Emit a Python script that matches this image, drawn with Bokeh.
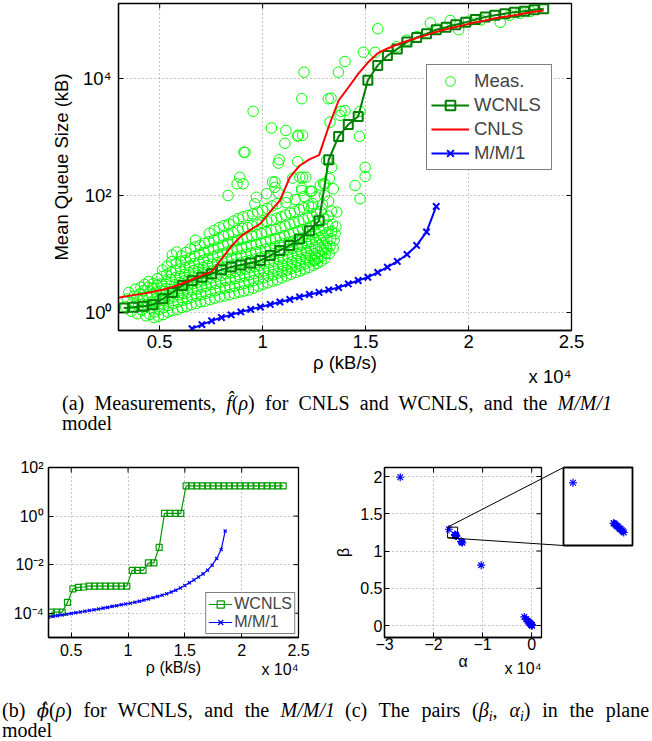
import math
from bokeh.plotting import figure
from bokeh.models import Range1d, FixedTicker, Legend, LegendItem, Div
from bokeh.core.properties import value
from bokeh.layouts import column, row
from bokeh.embed import file_html
from bokeh.resources import INLINE

# ---------------- (a) data : rho in units of 10^4 kB/s, queue size in kB ----------------
grid_rho = [0.325, 0.372, 0.420, 0.467, 0.515, 0.562, 0.610, 0.657, 0.705, 0.752,
            0.800, 0.847, 0.894, 0.942, 0.989, 1.037, 1.084, 1.132, 1.179, 1.227,
            1.274, 1.321, 1.369, 1.416, 1.464, 1.511, 1.559, 1.606, 1.654, 1.701,
            1.748, 1.796, 1.843, 1.891, 1.938, 1.986, 2.033, 2.081, 2.128, 2.176,
            2.223, 2.271, 2.318, 2.365]
wcnls_q = [1.19, 1.23, 1.28, 1.35, 1.71, 2.2, 2.9, 3.5, 4.0, 4.6,
           5.4, 6.0, 6.5, 7.0, 7.7, 9.4, 11.5, 14, 18, 25,
           37, 408, 1020, 1630, 2240, 9300, 16700, 24600, 32000, 41800,
           50000, 58000, 68000, 75000, 83000, 91000, 102000, 112000, 120000, 128000,
           136000, 141000, 149000, 155000]
cnls_rho = [0.300] + grid_rho
cnls_q = [1.78, 1.85, 1.98, 2.1, 2.27, 2.44, 2.73, 3.13, 3.66, 4.3, 5.0,
          8.2, 13.4, 20, 26, 33, 53, 82, 203, 322, 415,
          490, 1510, 4200, 7000, 12000, 18700, 27000, 32500, 38000, 43600,
          49000, 55000, 62400, 69200, 75900, 83200, 91200, 97700, 107000, 113500,
          120000, 129000, 138000, 144500]
mm1_rho = grid_rho[7:33]
mm1_q = [0.53, 0.62, 0.72, 0.82, 0.91, 1.02, 1.13, 1.24, 1.37, 1.51,
         1.67, 1.84, 2.03, 2.2, 2.43, 2.67, 3.07, 3.52, 4.0, 4.83,
         5.95, 7.45, 9.8, 14, 23.8, 65]

meas = [
    (0.335, 1.25), (0.342, 1.7), (0.350, 2.2), (0.362, 1.05), (0.368, 1.45), (0.375, 1.9), (0.381, 2.5),
    (0.392, 0.95), (0.397, 1.3), (0.401, 1.6), (0.404, 2.05), (0.409, 2.7),
    (0.413, 1.1), (0.418, 1.75), (0.421, 2.35), (0.426, 3.0), (0.432, 0.88), (0.436, 1.35), (0.439, 1.85),
    (0.443, 2.7), (0.447, 3.4), (0.452, 0.92), (0.455, 1.18), (0.458, 1.5), (0.461, 2.0), (0.464, 2.55), (0.468, 3.1),
    (0.472, 0.82), (0.475, 1.02), (0.478, 1.38), (0.481, 1.72), (0.484, 2.25), (0.487, 2.95), (0.489, 3.8),
    (0.493, 0.86), (0.497, 1.12), (0.500, 1.42), (0.503, 1.82), (0.506, 2.35), (0.509, 3.05), (0.511, 4.1),
    (0.514, 5.3), (0.517, 0.92), (0.520, 1.22), (0.523, 1.58), (0.526, 1.98), (0.529, 2.55), (0.532, 3.35),
    (0.534, 4.5), (0.537, 6.2),
    (0.541, 1.02), (0.543, 1.32), (0.546, 1.72), (0.549, 2.2), (0.551, 2.85), (0.554, 3.65), (0.556, 4.85),
    (0.558, 7.4), (0.561, 9.6), (0.563, 1.08), (0.566, 1.42), (0.568, 1.85), (0.571, 2.35), (0.573, 3.0),
    (0.576, 3.95), (0.578, 5.2), (0.580, 6.9), (0.583, 10.8), (0.586, 1.12), (0.588, 1.52), (0.591, 2.0),
    (0.593, 2.55), (0.596, 3.25), (0.598, 4.15), (0.600, 5.55), (0.603, 7.3), (0.605, 9.3),
    (0.608, 1.22), (0.611, 1.62), (0.613, 2.12), (0.616, 2.72), (0.618, 3.45), (0.621, 4.45), (0.623, 5.85),
    (0.625, 7.8), (0.628, 10.6), (0.631, 1.27), (0.633, 1.72), (0.636, 2.22), (0.638, 2.92), (0.641, 3.72),
    (0.643, 4.82), (0.645, 6.25), (0.648, 8.5), (0.650, 12.2), (0.653, 1.36), (0.655, 1.82), (0.658, 2.42),
    (0.660, 3.12), (0.663, 4.02), (0.665, 5.22), (0.668, 6.85), (0.670, 9.2), (0.672, 13.2), (0.674, 17.2),
    (0.677, 1.42), (0.679, 1.92), (0.682, 2.52), (0.684, 3.32), (0.687, 4.32), (0.689, 5.52), (0.691, 7.25),
    (0.694, 9.85), (0.696, 14.1), (0.699, 1.52), (0.701, 2.02), (0.704, 2.72), (0.706, 3.52), (0.708, 4.62),
    (0.711, 5.92), (0.713, 7.82), (0.716, 10.6), (0.718, 15.2), (0.720, 1.56), (0.723, 2.12), (0.725, 2.82),
    (0.728, 3.72), (0.730, 4.92), (0.732, 6.32), (0.735, 8.32), (0.737, 11.6), (0.739, 16.2), (0.741, 22.5),
    (0.744, 1.66), (0.746, 2.22), (0.749, 3.02), (0.751, 3.92), (0.753, 5.12), (0.756, 6.72), (0.758, 8.92),
    (0.760, 12.1), (0.763, 17.2), (0.765, 25.3), (0.768, 1.76), (0.770, 2.36), (0.773, 3.12), (0.775, 4.12),
    (0.778, 5.42), (0.780, 7.12), (0.782, 9.52), (0.785, 13.1), (0.787, 18.3), (0.789, 28.2), (0.792, 1.86),
    (0.794, 2.52), (0.796, 3.32), (0.799, 4.32), (0.801, 5.72), (0.803, 7.52), (0.806, 10.1), (0.808, 14.1),
    (0.810, 20.2), (0.812, 30.5),
    (0.815, 1.92), (0.817, 2.62), (0.820, 3.52), (0.822, 4.62), (0.824, 6.02), (0.827, 8.02), (0.829, 10.8),
    (0.831, 15.1), (0.834, 21.2), (0.836, 32.5), (0.838, 2.02), (0.841, 2.72), (0.843, 3.62), (0.845, 4.82),
    (0.848, 6.32), (0.850, 8.42), (0.852, 11.6), (0.855, 16.1), (0.857, 23.2), (0.859, 36.5), (0.862, 2.12),
    (0.864, 2.82), (0.866, 3.82), (0.869, 5.02), (0.871, 6.72), (0.873, 8.92), (0.876, 12.1), (0.878, 17.1),
    (0.880, 25.2), (0.882, 40.2),
    (0.885, 2.22), (0.887, 3.02), (0.889, 4.02), (0.892, 5.32), (0.894, 7.02), (0.896, 9.32), (0.899, 12.6),
    (0.901, 18.1), (0.903, 27.2), (0.905, 43.2), (0.908, 2.32), (0.910, 3.12), (0.913, 4.22), (0.915, 5.52),
    (0.917, 7.42), (0.920, 9.82), (0.922, 13.2), (0.924, 19.1), (0.927, 28.2), (0.929, 45.5), (0.931, 2.42),
    (0.934, 3.32), (0.936, 4.42), (0.938, 5.82), (0.941, 7.72), (0.943, 10.3), (0.945, 14.1), (0.948, 20.2),
    (0.950, 30.2), (0.952, 48.2),
    (0.955, 2.62), (0.957, 3.52), (0.959, 4.62), (0.962, 6.12), (0.964, 8.12), (0.966, 10.8), (0.969, 14.6),
    (0.971, 21.2), (0.973, 32.1), (0.976, 52.2), (0.978, 2.82), (0.980, 3.72), (0.983, 4.92), (0.985, 6.42),
    (0.987, 8.52), (0.990, 11.3), (0.992, 15.3), (0.994, 22.2), (0.997, 34.2), (0.999, 55.5), (1.001, 3.02),
    (1.004, 3.92), (1.006, 5.12), (1.008, 6.82), (1.011, 9.02), (1.013, 12.1), (1.015, 16.2), (1.018, 23.5),
    (1.020, 36.2), (1.022, 60.2),
    (1.025, 3.22), (1.027, 4.22), (1.029, 5.42), (1.032, 7.12), (1.034, 9.52), (1.036, 12.6), (1.039, 17.2),
    (1.041, 25.2), (1.043, 38.2), (1.046, 66.2), (1.048, 3.42), (1.050, 4.42), (1.053, 5.72), (1.055, 7.52),
    (1.057, 10.1), (1.060, 13.3), (1.062, 18.2), (1.064, 26.2), (1.067, 40.5), (1.069, 72.2), (1.071, 3.62),
    (1.074, 4.72), (1.076, 6.12), (1.078, 8.02), (1.081, 10.6), (1.083, 14.1), (1.085, 19.2), (1.088, 28.2),
    (1.090, 43.2),
    (1.092, 3.92), (1.095, 5.02), (1.097, 6.42), (1.099, 8.42), (1.102, 11.2), (1.104, 14.9), (1.106, 20.2),
    (1.109, 30.2), (1.111, 46.2), (1.113, 75.2), (1.116, 4.22), (1.118, 5.32), (1.120, 6.82), (1.123, 8.92),
    (1.125, 11.8), (1.127, 15.7), (1.130, 21.5), (1.132, 32.2), (1.134, 50.2), (1.137, 4.52), (1.139, 5.62),
    (1.141, 7.22), (1.144, 9.42), (1.146, 12.5), (1.148, 16.6), (1.151, 22.8), (1.153, 34.2), (1.155, 53.2),
    (1.158, 85.2),
    (1.160, 4.82), (1.162, 6.02), (1.165, 7.72), (1.167, 10.1), (1.169, 13.3), (1.172, 17.6), (1.174, 24.2),
    (1.176, 36.2), (1.179, 57.2), (1.181, 5.12), (1.183, 6.42), (1.186, 8.22), (1.188, 10.7), (1.190, 14.1),
    (1.193, 18.7), (1.195, 25.8), (1.197, 38.5), (1.200, 61.2), (1.202, 96.2), (1.204, 5.52), (1.207, 6.82),
    (1.209, 8.72), (1.211, 11.4), (1.214, 15.1), (1.216, 19.9), (1.218, 27.5), (1.221, 41.2), (1.223, 66.2),
    (1.225, 5.92), (1.228, 7.32), (1.230, 9.32), (1.232, 12.2), (1.235, 16.2), (1.237, 21.4), (1.239, 29.5),
    (1.242, 44.2), (1.244, 72.2), (1.246, 6.42), (1.249, 7.82), (1.251, 10.1), (1.253, 13.1), (1.256, 17.4),
    (1.258, 23.2), (1.260, 32.2), (1.263, 48.2), (1.265, 6.92), (1.267, 8.42), (1.270, 10.8), (1.272, 14.1),
    (1.274, 18.8), (1.277, 25.2), (1.279, 35.2), (1.281, 53.2), (1.284, 7.52), (1.286, 9.12), (1.288, 11.7),
    (1.291, 15.4), (1.293, 20.5), (1.295, 27.5), (1.298, 39.2),
    (1.302, 8.32), (1.305, 10.2), (1.308, 13.2), (1.311, 17.2), (1.314, 23.2), (1.317, 31.2), (1.320, 44.2),
    (1.323, 10.2), (1.327, 13.6), (1.331, 18.2), (1.335, 24.2), (1.339, 32.2), (1.343, 12.6), (1.347, 17.2),
    (1.352, 22.2), (1.356, 29.2),
    # sparse points above the main cloud
    (1.201, 12800), (1.190, 4500), (0.954, 2750), (1.319, 4500), (1.043, 1420), (1.113, 1290), (1.170, 1030),
    (1.108, 780), (0.914, 543), (1.080, 408), (1.076, 357), (1.170, 380), (0.889, 205), (0.876, 158),
    (1.048, 170), (1.060, 170), (1.146, 198), (1.180, 205), (1.210, 205), (0.832, 100), (0.970, 93),
    (1.019, 107), (1.076, 110), (1.120, 93), (1.190, 133), (1.238, 118), (1.295, 158), (1.324, 194),
    (1.559, 70800), (1.489, 28000), (1.546, 28000), (1.400, 19500), (1.368, 12800), (1.332, 4600),
    (1.381, 2740), (1.376, 2340), (1.327, 1790), (1.173, 1070), (1.470, 1020), (0.909, 550), (1.311, 398),
    (1.335, 303), (1.498, 303), (1.498, 212), (1.449, 148), (1.473, 88), (1.194, 205), (1.230, 118),
    (1.343, 130), (1.303, 158), (1.194, 1070), (1.335, 54), (1.360, 52), (1.311, 12.3), (1.214, 10.7),
    (1.254, 7.8), (1.400, 2820), (1.473, 2740), (1.290, 70), (1.300, 100), (1.320, 80), (1.280, 150),
    (1.260, 95), (1.060, 138), (1.190, 121), (1.238, 63), (0.905, 158), (0.962, 72),
    (1.650, 35000), (1.700, 45000), (1.750, 52000), (1.814, 89000), (1.850, 70000), (1.911, 98000),
    (1.952, 68000), (2.000, 95000), (2.060, 100000), (2.154, 91000), (2.200, 120000), (2.250, 130000),
    (2.300, 140000),
]
meas_rho = [p[0] for p in meas]
meas_q = [p[1] for p in meas]

a_xticks = [0.5, 1, 1.5, 2, 2.5]
a_xlabels = ["0.5", "1", "1.5", "2", "2.5"]
a_yticks = [1, 100, 10000]
a_ylabels = ["10\u2070", "10\u00b2", "10\u2074"]

# ---------------- (b) data ----------------
wcnls_phi = [1.1e-4, 1.1e-4, 1.1e-4, 2.8e-4, 1.0e-3, 1.15e-3, 1.2e-3, 1.3e-3, 1.3e-3, 1.3e-3,
             1.3e-3, 1.3e-3, 1.3e-3, 1.3e-3, 1.3e-3, 5.8e-3, 5.8e-3, 5.8e-3, 1.18e-2, 1.18e-2,
             5.1e-2, 1.3, 1.3, 1.3, 1.3, 17.4, 17.4, 17.4, 17.4, 17.4,
             17.4, 17.4, 17.4, 17.4, 17.4, 17.4, 17.4, 17.4, 17.4, 17.4,
             17.4, 17.4, 17.4, 17.4]
mm1_phi_rho = [0.30, 0.34, 0.38, 0.42, 0.46, 0.50, 0.54, 0.58, 0.62, 0.66,
               0.70, 0.74, 0.78, 0.82, 0.86, 0.90, 0.94, 0.98, 1.02, 1.06,
               1.10, 1.14, 1.18, 1.22, 1.26, 1.30, 1.34, 1.38, 1.42, 1.46,
               1.50, 1.54, 1.58, 1.62, 1.66, 1.70, 1.74, 1.78, 1.82, 1.855]
mm1_phi = [6.9e-5, 7.4e-5, 7.9e-5, 8.5e-5, 9.1e-5, 9.8e-5, 1.05e-4, 1.12e-4, 1.20e-4, 1.29e-4,
           1.38e-4, 1.48e-4, 1.62e-4, 1.74e-4, 1.91e-4, 2.04e-4, 2.24e-4, 2.40e-4, 2.57e-4, 2.82e-4,
           3.09e-4, 3.47e-4, 3.89e-4, 4.37e-4, 4.9e-4, 5.5e-4, 6.3e-4, 7.4e-4, 8.9e-4, 1.10e-3,
           1.38e-3, 1.78e-3, 2.34e-3, 3.09e-3, 4.17e-3, 5.9e-3, 9.5e-3, 0.018, 0.042, 0.245]
b_yticks = [1e-4, 1e-2, 1, 100]
b_ylabels = ["10\u207b\u2074", "10\u207b\u00b2", "10\u2070", "10\u00b2"]

# ---------------- (c) data : alpha in units of 10^4 ----------------
alpha = [-2.68, -1.686, -1.566, -1.563, -1.560, -1.557, -1.554, -1.551, -1.548, -1.545,
         -1.542, -1.539, -1.536, -1.440, -1.425, -1.415, -1.030, -0.150, -0.110, -0.085,
         -0.065, -0.050, -0.040, -0.030, -0.022, -0.015, -0.010, -0.006, -0.003, 0.000,
         0.003, 0.006, 0.010]
beta = [1.99, 1.292, 1.218, 1.217, 1.215, 1.213, 1.212, 1.210, 1.208, 1.207,
        1.205, 1.203, 1.201, 1.130, 1.120, 1.110, 0.810, 0.115, 0.085, 0.065,
        0.052, 0.042, 0.035, 0.028, 0.022, 0.017, 0.013, 0.010, 0.007, 0.005,
        0.003, 0.002, 0.000]
zoom_alpha = [-1.714, -1.510]
zoom_beta = [1.177, 1.320]
c_xticks = [-3, -2, -1, 0]
c_xlabels = ["\u22123", "\u22122", "\u22121", "0"]
c_yticks = [0, 0.5, 1, 1.5, 2]
c_ylabels = ["0", "0.5", "1", "1.5", "2"]
exp_text = "x 10\u2074"

# ---------------- styling helpers ----------------
FONT = "Liberation Sans"
TICK = 5  # px, inward tick length


def style_axis(ax, fs, standoff, label_standoff):
    ax.axis_line_color = "black"
    ax.axis_line_width = 1.3
    ax.major_tick_line_color = "black"
    ax.major_tick_line_width = 1
    ax.major_tick_in = TICK
    ax.major_tick_out = 0
    ax.minor_tick_in = 0
    ax.minor_tick_out = 0
    ax.major_label_text_font = FONT
    ax.major_label_text_font_size = fs
    ax.major_label_text_color = "black"
    ax.major_label_standoff = standoff
    ax.axis_label_text_font = FONT
    ax.axis_label_text_font_size = fs
    ax.axis_label_text_font_style = "normal"
    ax.axis_label_text_color = "black"
    ax.axis_label_standoff = label_standoff


def setup(p, xt, xl, yt, yl, fs, xs, ys, xls, yls, fw, fh, ylog):
    p.outline_line_color = "black"
    p.outline_line_width = 1.3
    p.background_fill_color = "white"
    p.border_fill_color = "white"
    xa = p.below[0]
    ya = p.left[0]
    tx = FixedTicker(ticks=xt)
    ty = FixedTicker(ticks=yt)
    xa.ticker = tx
    ya.ticker = ty
    p.xgrid.ticker = tx
    p.ygrid.ticker = ty
    xa.major_label_overrides = dict(zip(xt, xl))
    ya.major_label_overrides = dict(zip(yt, yl))
    style_axis(xa, fs, xs, xls)
    style_axis(ya, fs, ys, yls)
    for g in (p.xgrid, p.ygrid):
        g.grid_line_color = "#8a8a8a"
        g.grid_line_dash = "1 3"
        g.grid_line_width = 1
    # mirrored inward tick marks on the top and right edges of the box
    x0, x1 = p.x_range.start, p.x_range.end
    y0, y1 = p.y_range.start, p.y_range.end
    dx = TICK * (x1 - x0) / fw
    if ylog:
        ytop_in = 10 ** (math.log10(y1) - TICK * (math.log10(y1) - math.log10(y0)) / fh)
    else:
        ytop_in = y1 - TICK * (y1 - y0) / fh
    p.segment(x0=xt, y0=[y1] * len(xt), x1=xt, y1=[ytop_in] * len(xt), line_color="black", line_width=1)
    p.segment(x0=[x1] * len(yt), y0=yt, x1=[x1 - dx] * len(yt), y1=yt, line_color="black", line_width=1)
    return xa, ya


def exponent_text(p, below_px, fh, ylog, fs):
    # "x 10^4" multiplier, right-aligned to the end of the x axis, below_px under the frame
    y0, y1 = p.y_range.start, p.y_range.end
    if ylog:
        yy = 10 ** (math.log10(y0) - below_px * (math.log10(y1) - math.log10(y0)) / fh)
    else:
        yy = y0 - below_px * (y1 - y0) / fh
    p.text(x=[p.x_range.end], y=[yy], text=[exp_text], text_font=value(FONT), text_font_size=fs,
           text_align="right", text_baseline="top", text_color="black", level="overlay")


# ---------------- figure (a) ----------------
A_W, A_H, A_L, A_T, A_FW, A_FH = 652, 388, 118, 3, 453, 327
pa = figure(width=A_W, height=A_H, x_range=Range1d(0.3, 2.5), y_range=Range1d(0.492, 1.91e5),
            y_axis_type="log", output_backend="svg", toolbar_location=None,
            min_border_left=A_L, min_border_right=A_W - A_L - A_FW,
            min_border_top=A_T, min_border_bottom=A_H - A_T - A_FH)
xa, ya = setup(pa, a_xticks, a_xlabels, a_yticks, a_ylabels, "18.5px", 4, 7, 1, 8, A_FW, A_FH, True)
xa.axis_label = "\u03c1 (kB/s)"
ya.axis_label = "Mean Queue Size (kB)"

r_meas = pa.scatter(meas_rho, meas_q, marker="circle", size=10.5, fill_color=None,
                    line_color="#00ff00", line_width=1)
r_wl = pa.line(grid_rho, wcnls_q, line_color="#007f00", line_width=2)
r_ws = pa.scatter(grid_rho, wcnls_q, marker="square", size=9, fill_color=None,
                  line_color="#007f00", line_width=2)
r_cn = pa.line(cnls_rho, cnls_q, line_color="#ff0000", line_width=2)
r_ml = pa.line(mm1_rho, mm1_q, line_color="#0000ff", line_width=2)
r_ms = pa.scatter(mm1_rho, mm1_q, marker="x", size=9, line_color="#0000ff", line_width=2)

leg_a = Legend(items=[LegendItem(label="Meas.", renderers=[r_meas]),
                      LegendItem(label="WCNLS", renderers=[r_wl, r_ws]),
                      LegendItem(label="CNLS", renderers=[r_cn]),
                      LegendItem(label="M/M/1", renderers=[r_ml, r_ms])],
               location=(308, 160), label_text_font=FONT, label_text_font_size="18.5px",
               border_line_color="black", border_line_width=1, background_fill_alpha=1,
               padding=4, spacing=0, margin=0, glyph_width=38, glyph_height=24,
               label_height=24, label_width=73, label_standoff=5)
pa.add_layout(leg_a)
exponent_text(pa, 35, A_FH, True, "18.5px")

# ---------------- caption (a) ----------------
cap_style = "font-family:'Liberation Serif';font-size:20px;line-height:20px;color:black;"
div_a = Div(width=652, height=70, margin=0, text=(
    "<div style=\"" + cap_style + "padding-top:5px;margin-left:62px;width:550px;\">"
    "<div style=\"text-align:justify;text-align-last:justify;white-space:nowrap;\">"
    "(a) Measurements, <i>f&#770;</i>(<i>&rho;</i>) for CNLS and WCNLS, and the <i>M/M/1</i></div>"
    "<div>model</div></div>"))

# ---------------- figure (b) ----------------
R_H = 240
B_W, B_L, B_T, B_FW, B_FH = 330, 48, 9, 250, 170
pb = figure(width=B_W, height=R_H, x_range=Range1d(0.3, 2.5), y_range=Range1d(1e-5, 1e2),
            y_axis_type="log", output_backend="svg", toolbar_location=None,
            min_border_left=B_L, min_border_right=B_W - B_L - B_FW,
            min_border_top=B_T, min_border_bottom=R_H - B_T - B_FH)
xb, yb = setup(pb, a_xticks, a_xlabels, b_yticks, b_ylabels, "16px", 6, 5, 0, 5, B_FW, B_FH, True)
xb.axis_label = "\u03c1 (kB/s)"
r_bwl = pb.line(grid_rho, wcnls_phi, line_color="#009900", line_width=1.2)
r_bws = pb.scatter(grid_rho, wcnls_phi, marker="square", size=6, fill_color=None,
                   line_color="#009900", line_width=1.2)
r_bml = pb.line(mm1_phi_rho, mm1_phi, line_color="#0000ff", line_width=1.2)
r_bms = pb.scatter(mm1_phi_rho, mm1_phi, marker="x", size=4.5, line_color="#0000ff", line_width=1.2)
leg_b = Legend(items=[LegendItem(label="WCNLS", renderers=[r_bwl, r_bws]),
                      LegendItem(label="M/M/1", renderers=[r_bml, r_bms])],
               location="bottom_right", label_text_font=FONT, label_text_font_size="16px",
               border_line_color="black", border_line_width=1, background_fill_alpha=1,
               padding=2, spacing=0, margin=3, glyph_width=24, glyph_height=18,
               label_height=18, label_standoff=2)
pb.add_layout(leg_b)
exponent_text(pb, 23, B_FH, True, "16px")

# ---------------- figure (c) with zoom inset ----------------
C_W, C_LEFT, C_TOP, C_FW, C_FH = 322, 54, 9, 157, 170
I_OFF_X, I_OFF_Y, I_FW, I_FH = 179, 0, 69, 78   # inset box, px from the main frame's top-left
cx = (-3.0, 0.2)
cy = (-0.161, 2.121)

pc = figure(width=C_W, height=R_H, x_range=Range1d(*cx), y_range=Range1d(*cy),
            output_backend="svg", toolbar_location=None,
            min_border_left=C_LEFT, min_border_right=C_W - C_LEFT - C_FW,
            min_border_top=C_TOP, min_border_bottom=R_H - C_TOP - C_FH)
xc, yc = setup(pc, c_xticks, c_xlabels, c_yticks, c_ylabels, "16px", 0, 2, 0, 5, C_FW, C_FH, False)
xc.axis_label = "\u03b1"
yc.axis_label = "\u03b2"
pc.scatter(alpha, beta, marker="asterisk", size=8, line_color="#0000ff", line_width=1.2)
pc.quad(left=[zoom_alpha[0]], right=[zoom_alpha[1]], bottom=[zoom_beta[0]], top=[zoom_beta[1]],
        fill_color=None, line_color="black", line_width=1)
exponent_text(pc, 22, C_FH, False, "16px")

# inset: extra ranges that map the zoom window onto the inset box to the right of the frame
ux = (zoom_alpha[1] - zoom_alpha[0]) / I_FW
uy = (zoom_beta[1] - zoom_beta[0]) / I_FH
ix0 = zoom_alpha[0] - I_OFF_X * ux
iy1 = zoom_beta[1] + I_OFF_Y * uy
pc.extra_x_ranges = {"ix": Range1d(ix0, ix0 + C_FW * ux)}
pc.extra_y_ranges = {"iy": Range1d(iy1 - C_FH * uy, iy1)}

sx = C_FW / (cx[1] - cx[0])
sy = C_FH / (cy[1] - cy[0])
ins_left_main = cx[0] + I_OFF_X / sx
ins_top_main = cy[1] - I_OFF_Y / sy
ins_bot_main = cy[1] - (I_OFF_Y + I_FH) / sy
pc.segment(x0=[zoom_alpha[0]] * 2, y0=[zoom_beta[1], zoom_beta[0]],
           x1=[ins_left_main] * 2, y1=[ins_top_main, ins_bot_main],
           line_color="black", line_width=1, level="overlay")
pc.line(x=[zoom_alpha[0], zoom_alpha[1], zoom_alpha[1], zoom_alpha[0], zoom_alpha[0]],
        y=[zoom_beta[1], zoom_beta[1], zoom_beta[0], zoom_beta[0], zoom_beta[1]],
        x_range_name="ix", y_range_name="iy", line_color="black", line_width=1.8, level="overlay")

# asterisks of the points that fall inside the zoom window, drawn in the inset's ranges
R_AST = 4.0
D_AST = R_AST * 0.72
ax0, ay0, ax1, ay1 = [], [], [], []
for a, b in zip(alpha, beta):
    if zoom_alpha[0] <= a <= zoom_alpha[1] and zoom_beta[0] <= b <= zoom_beta[1]:
        for ddx, ddy in ((R_AST, 0), (0, R_AST), (D_AST, D_AST), (D_AST, -D_AST)):
            ax0.append(a - ddx * ux)
            ay0.append(b - ddy * uy)
            ax1.append(a + ddx * ux)
            ay1.append(b + ddy * uy)
pc.segment(x0=ax0, y0=ay0, x1=ax1, y1=ay1, x_range_name="ix", y_range_name="iy",
           line_color="#0000ff", line_width=1.2, level="overlay")

# ---------------- captions (b), (c) ----------------
sub = "<span style=\"font-size:14px;position:relative;top:4px;line-height:0;\">i</span>"
phihat = "<i style=\"font-family:'DejaVu Serif';font-size:18px;line-height:0;\">&#981;&#770;</i>"
div_b = Div(width=338, height=43, margin=0, text=(
    "<div style=\"" + cap_style + "padding-top:2px;margin-left:2px;width:333px;\">"
    "<div style=\"height:20px;overflow:visible;text-align:justify;text-align-last:justify;white-space:nowrap;\">"
    "(b) " + phihat + "(<i>&rho;</i>) for WCNLS, and the <i>M/M/1</i></div>"
    "<div style=\"height:20px;\">model</div></div>"))
div_c = Div(width=314, height=43, margin=0, text=(
    "<div style=\"" + cap_style + "padding-top:2px;margin-left:7px;width:304px;\">"
    "<div style=\"height:20px;overflow:visible;text-align:justify;text-align-last:justify;white-space:nowrap;\">"
    "(c) The pairs (<i>&beta;" + sub + "</i>, <i>&alpha;" + sub + "</i>) in the plane</div>"
    "</div>"))

layout = column(pa, div_a, row(pb, pc, spacing=0), row(div_b, div_c, spacing=0), spacing=0)

open("out.html", "w").write(file_html(layout, INLINE))
